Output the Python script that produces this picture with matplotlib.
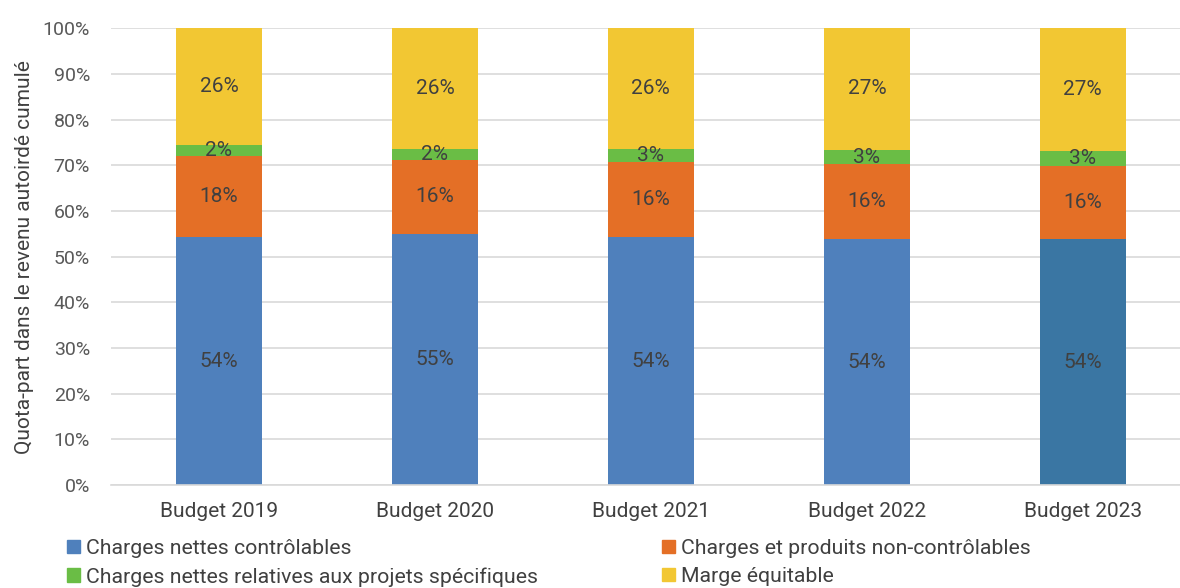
import numpy as np
import matplotlib.pyplot as plt
from matplotlib.patches import Patch

plt.rcParams['font.family'] = ['Roboto', 'DejaVu Sans']

# share of cumulative authorized revenue, in percent
budgets = ['Budget 2019', 'Budget 2020', 'Budget 2021', 'Budget 2022', 'Budget 2023']
controlables = [54.3, 55.0, 54.3, 53.8, 53.8]
non_controlables = [17.7, 16.2, 16.4, 16.4, 16.1]
projets = [2.4, 2.4, 2.9, 3.2, 3.2]
marge = [25.6, 26.4, 26.4, 26.6, 26.9]
yticks = [0, 10, 20, 30, 40, 50, 60, 70, 80, 90, 100]

series = [
    ('Charges nettes contrôlables', controlables, '#4f80bc'),
    ('Charges et produits non-contrôlables', non_controlables, '#e46f26'),
    ('Charges nettes relatives aux projets spécifiques', projets, '#6abd45'),
    ('Marge équitable', marge, '#f2c733'),
]

fig = plt.figure(figsize=(11.8, 5.88), dpi=100)
ax = fig.add_axes([0.094, 0.175, 0.906, 0.777])

x = np.arange(len(budgets))
bottom = np.zeros(len(budgets))
bars = []
for name, vals, col in series:
    vals = np.array(vals)
    b = ax.bar(x, vals, 0.4, bottom=bottom, color=col, zorder=2)
    bars.append(b)
    for xi, v, btm in zip(x, vals, bottom):
        ax.text(xi, btm + v / 2, f'{round(v):.0f}%', ha='center', va='center',
                fontsize=15, color='#404040', zorder=3)
    bottom += vals

# last controllable bar is highlighted
bars[0][-1].set_facecolor('#3a76a3')

ax.set_xlim(-0.5, 4.45)
ax.set_ylim(0, 100)
ax.set_yticks(yticks)
ax.set_yticklabels([f'{t}%' for t in yticks])
ax.set_xticks(x)
ax.set_xticklabels(budgets)
ax.tick_params(axis='y', length=0, pad=15, labelsize=14, labelcolor='#595959')
ax.tick_params(axis='x', length=0, pad=12, labelsize=15, labelcolor='#404040')
ax.yaxis.grid(True, color='#d9d9d9', linewidth=1.2, zorder=0)
for s in ['top', 'right', 'left']:
    ax.spines[s].set_visible(False)
ax.spines['bottom'].set_color('#d9d9d9')
ax.spines['bottom'].set_linewidth(1.2)

ax.set_ylabel('Quota-part dans le revenu autoirdé cumulé', fontsize=15,
              color='#404040', labelpad=6)

# legend in two columns, filled row by row
for cols, xpos in [((0, 2), 0.057), ((1, 3), 0.561)]:
    handles = [Patch(color=series[i][2], label=series[i][0]) for i in cols]
    fig.legend(handles=handles, loc='upper left', bbox_to_anchor=(xpos, 0.083),
               frameon=False, fontsize=15.3, labelcolor='#404040',
               handlelength=0.6, handleheight=0.6, handletextpad=0.3,
               labelspacing=0.42, borderaxespad=0, borderpad=0)

fig.savefig('out.png', dpi=100)
